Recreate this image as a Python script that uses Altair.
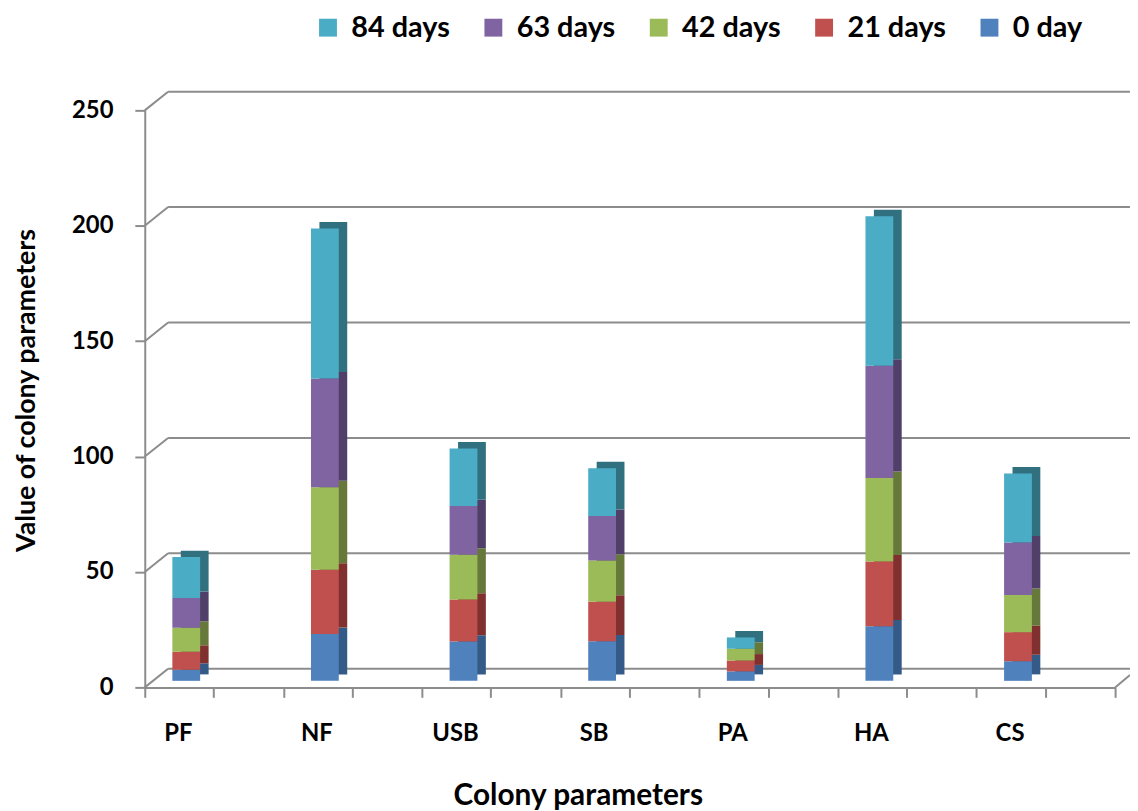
import altair as alt
import pandas as pd

# ---- data ----
cats = ["PF", "NF", "USB", "SB", "PA", "HA", "CS"]
series_stack = ["0 day", "21 days", "42 days", "63 days", "84 days"]  # bottom -> top
legend_order = ["84 days", "63 days", "42 days", "21 days", "0 day"]
day0 = [4.8, 20.3, 17.0, 17.1, 4.1, 23.6, 8.5]
day21 = [7.8, 27.8, 18.2, 17.2, 4.7, 28.1, 12.6]
day42 = [10.4, 35.8, 19.4, 17.8, 5.1, 36.2, 16.1]
day63 = [12.9, 47.1, 21.1, 19.3, 0.0, 48.6, 22.7]
day84 = [17.7, 65.0, 25.0, 20.7, 4.9, 64.8, 29.9]
y_ticks = [0, 50, 100, 150, 200, 250]

front_colors = {"0 day": "#4F81BD", "21 days": "#C0504D", "42 days": "#9BBB59",
                "63 days": "#8064A2", "84 days": "#4BACC6"}
side_colors = {"0 day": "#345A88", "21 days": "#80302E", "42 days": "#66793A",
               "63 days": "#503F68", "84 days": "#31707F"}

vals = [day0, day21, day42, day63, day84]
rows = []
for k, (s, arr) in enumerate(zip(series_stack, vals)):
    for c, v in zip(cats, arr):
        rows.append({"cat": c, "series": s, "value": v, "k": k})
df = pd.DataFrame(rows)
grid_df = pd.DataFrame({"v": y_ticks})

W, H = 977, 581
FONT = "Lato"
GRID = "#8C8C8C"
DX, DY = 23.5, 18.8      # back-wall offset
BX, BY = 8.5, 6.5        # bar depth
LIFT = 6.6               # bars stand in the middle of the floor depth
BAR_W = 28
BAR_SHIFT = -28
RIGHT = 15

yscale = alt.Scale(domain=[0, 250], nice=False)
xscale = alt.Scale(domain=cats, paddingInner=0, paddingOuter=0)

y_axis = alt.Axis(values=y_ticks, title="Value of colony parameters",
                  grid=False, domainColor=GRID, domainWidth=2,
                  tickColor=GRID, tickWidth=2, tickSize=10,
                  labelFont=FONT, labelFontWeight="bold", labelFontSize=24,
                  labelColor="black", labelPadding=22,
                  titleFont=FONT, titleFontWeight="bold", titleFontSize=27,
                  titleColor="black", titleX=-110.7, titleY=H / 2 - 9,
                  titleAngle=-90, titleAlign="center", titleBaseline="alphabetic")

y_val = alt.Y("value:Q", stack="zero", scale=yscale, axis=y_axis)
y_grid = alt.Y("v:Q", scale=yscale, axis=y_axis)

# back wall gridlines
grid = alt.Chart(grid_df).mark_rule(color=GRID, strokeWidth=2, yOffset=-DY).encode(
    y=y_grid, x=alt.value(DX), x2=alt.value(W + RIGHT))

# diagonal connectors from the front axis to the back wall
diag = alt.Chart(grid_df).mark_rule(color=GRID, strokeWidth=2, y2Offset=-DY).encode(
    y=y_grid, y2="v:Q", x=alt.value(0), x2=alt.value(DX))

# right floor edge
floor_r = alt.Chart(grid_df).transform_filter("datum.v == 0").mark_rule(
    color=GRID, strokeWidth=2, y2Offset=-DY * 0.66).encode(
    y=y_grid, y2="v:Q", x=alt.value(W), x2=alt.value(W + RIGHT))

# darker depth faces of the columns
side = alt.Chart(df).mark_bar(width=BAR_W, xOffset=BAR_SHIFT + BX, x2Offset=BAR_SHIFT + BX,
                              yOffset=-LIFT - BY, y2Offset=-LIFT - BY).encode(
    x=alt.X("cat:N", sort=cats, scale=xscale,
            axis=alt.Axis(orient="bottom", labels=False, title=None, domain=False,
                          tickBand="extent", tickColor=GRID, tickWidth=2, tickSize=10)),
    y=y_val,
    color=alt.Color("series:N",
                    scale=alt.Scale(domain=series_stack,
                                    range=[side_colors[s] for s in series_stack]),
                    legend=None),
    order=alt.Order("k:Q", sort="ascending"))

front = alt.Chart(df).mark_bar(width=BAR_W, xOffset=BAR_SHIFT, x2Offset=BAR_SHIFT,
                               yOffset=-LIFT, y2Offset=-LIFT).encode(
    x=alt.X("cat:N", sort=cats, scale=xscale,
            axis=alt.Axis(orient="bottom", title="Colony parameters",
                          domainColor=GRID, domainWidth=2,
                          tickColor=GRID, tickWidth=2, tickSize=10,
                          labelFont=FONT, labelFontWeight="bold", labelFontSize=24,
                          labelColor="black", labelAngle=0, labelOffset=-36,
                          labelPadding=24,
                          titleFont=FONT, titleFontWeight="bold", titleFontSize=30,
                          titleColor="black", titleX=436, titleY=118,
                          titleAlign="center", titleBaseline="alphabetic")),
    y=y_val,
    color=alt.Color("series:N",
                    scale=alt.Scale(domain=legend_order,
                                    range=[front_colors[s] for s in legend_order]),
                    legend=alt.Legend(orient="none", direction="horizontal",
                                      legendX=170, legendY=-98, title=None,
                                      symbolType="square", symbolSize=324,
                                      symbolStrokeWidth=0, labelOffset=9,
                                      columnPadding=28.5, padding=0,
                                      labelFont=FONT, labelFontWeight="bold",
                                      labelFontSize=29, labelColor="black")),
    order=alt.Order("k:Q", sort="ascending"))

chart = alt.layer(grid, diag, floor_r, side, front).resolve_scale(
    color="independent").resolve_axis(x="independent").properties(
    width=W, height=H,
    background="white",
    autosize=alt.AutoSizeParams(type="none"),
    padding={"left": 137.7, "top": 100.3, "right": RIGHT, "bottom": 121.7},
).configure_view(stroke=None)

chart.save("out.html", embed_options={"renderer": "svg", "actions": False})
